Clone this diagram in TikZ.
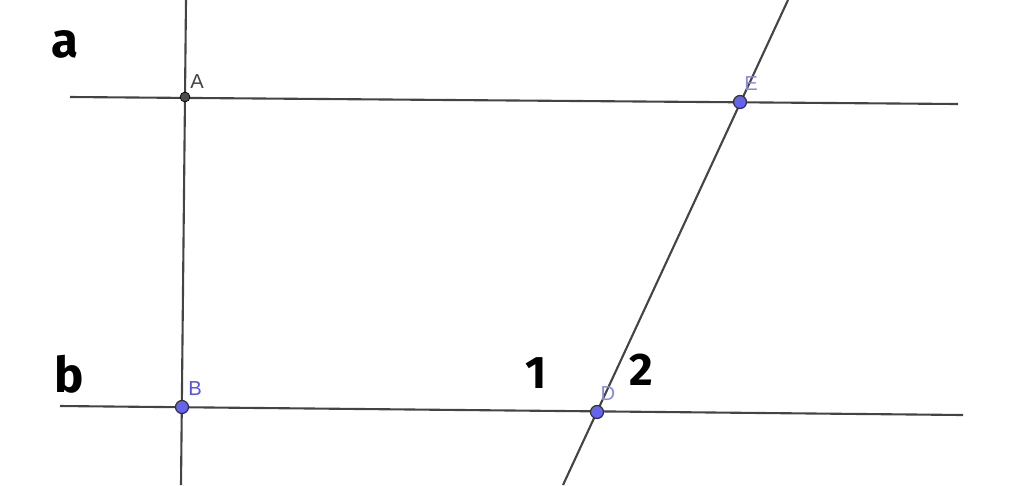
\documentclass[tikz,border=0pt]{standalone}
\usepackage{fontspec}
\setsansfont{Liberation Sans}
\newfontfamily\handfont{Fira Sans}
\definecolor{linegray}{HTML}{444444}
\definecolor{ptblue}{HTML}{6464F0}
\definecolor{lblblue}{HTML}{5555DD}
\definecolor{lbllight}{HTML}{8A8AD8}
\tikzset{
  ln/.style={linegray,line width=1.2pt},
  pt/.style={circle,draw=black!80,line width=0.7pt,fill=ptblue,inner sep=0pt,minimum size=7.4pt},
  ptblack/.style={circle,draw=black,fill=black!70,inner sep=0pt,minimum size=5.6pt},
  lbl/.style={font=\sffamily\fontsize{11.5}{13}\selectfont,inner sep=0pt},
  hand/.style={font=\handfont\bfseries\fontsize{28}{28}\selectfont,inner sep=0pt}
}
\begin{document}
\begin{tikzpicture}[x=0.02cm,y=-0.02cm]
\useasboundingbox (0,0) rectangle (1024,485);
\begin{scope}[ln]
    \coordinate (a1) at (70,97);   \coordinate (a2) at (958,104);
    \coordinate (b1) at (60,406);  \coordinate (b2) at (963,415);
    \coordinate (v1) at (186,0);   \coordinate (v2) at (181,485);
    \coordinate (s1) at (788,0);   \coordinate (s2) at (563,485);
    \draw (a1) -- (a2);
    \draw (b1) -- (b2);
    \draw (v1) -- (v2);
    \draw (s1) -- (s2);
\end{scope}
    \node[ptblack] (A) at (185,97) {};
    \node[pt] (B) at (182,407) {};
    \node[pt] (E) at (740,102) {};
    \node[pt] (D) at (597,412) {};
    \node[lbl,text=linegray] at (197,82) {A};
    \node[lbl,text=lblblue] at (195,389) {B};
    \node[lbl,text=lbllight] at (751,84) {E};
    \node[lbl,text=lbllight] at (608,394) {D};
    \node[hand] at (65,44) {a};
    \node[hand] at (69,374) {b};
    \node[hand,font=\handfont\bfseries\fontsize{26}{26}\selectfont] at (536,373) {1};
    \node[hand,font=\handfont\bfseries\fontsize{26}{26}\selectfont] at (641,370) {2};
\end{tikzpicture}
\end{document}
